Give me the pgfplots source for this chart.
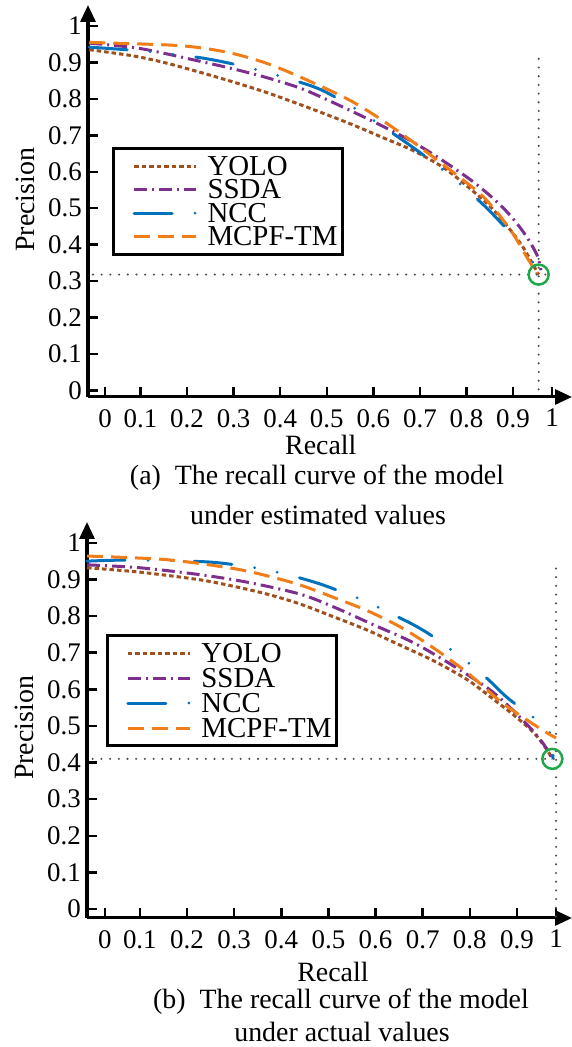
\documentclass[border=0pt]{standalone}
\usepackage{fontspec}
\setmainfont{Liberation Serif}
\usepackage{pgfplots}
\pgfplotsset{compat=1.18}
\usetikzlibrary{arrows.meta}

\definecolor{yolo}{HTML}{A0501E}
\definecolor{ssda}{HTML}{7E2F8E}
\definecolor{ncc}{HTML}{0072BD}
\definecolor{mcpf}{HTML}{F07D18}
\definecolor{ring}{HTML}{1FA84A}
\definecolor{guide}{HTML}{4D4D4D}

\newcommand{\labf}{\fontsize{28}{28}\selectfont}
\newcommand{\legf}{\fontsize{29}{29}\selectfont}
\newcommand{\tickf}{\fontsize{27}{27}\selectfont}

\pgfplotsset{
  prcurve/.style={
    scale only axis, axis lines=left, clip=false,
    axis line style={line width=3bp, -{Triangle[length=17bp,width=15bp]}},
    tick align=inside, major tick length=10bp,
    tick style={line width=2.5bp, black},
    ytick={0,0.1,...,1},
    yticklabel style={font=\tickf, inner sep=0bp, xshift=-6bp},
    xticklabel style={font=\tickf, inner sep=0bp, yshift=-12bp},
    /pgf/number format/assume math mode=true,
    xticklabels={0,0.1,0.2,0.3,0.4,0.5,0.6,0.7,0.8,0.9,1},
    label style={font=\labf},
    xlabel={Recall}, ylabel={Precision},
    legend style={draw=black, line width=3bp, font=\legf,
      anchor=north west, inner xsep=5bp,
      row sep=0bp, column sep=0bp},
    legend cell align=left,
    legend image code/.code={\path (-14bp,0bp) (72bp,0bp);
      \draw[##1] (0bp,0bp) -- (62bp,0bp);},
  },
  cyolo/.style={yolo, line width=3bp, dash pattern=on 4.5bp off 3bp},
  cssda/.style={ssda, line width=3bp, dash pattern=on 13bp off 5bp on 2bp off 5bp},
  cncc/.style={ncc, line width=3bp, line cap=round, dash pattern=on 38bp off 23bp on 0bp off 23bp on 0bp off 23bp},
  cmcpf/.style={mcpf, line width=3bp, dash pattern=on 16bp off 8bp},
  guideline/.style={guide, line width=2.3bp, line cap=round, dash pattern=on 0bp off 8.7bp},
}

\begin{document}
\begin{tikzpicture}
\useasboundingbox (0,0) rectangle (572bp,1047bp);

% (a) estimated values
\begin{axis}[prcurve,
  at={(88bp,650bp)}, anchor=south west,
  width=484bp, height=392bp,
  xmin=-0.0127, xmax=1.0266, ymin=-0.0178, ymax=1.0576,
  xtick={0.024,0.1,0.2,0.3,0.4,0.5,0.6,0.7,0.8,0.9,0.984},
  xlabel style={at={(axis description cs:0.481,-0.123)}, anchor=center},
  ylabel style={at={(axis description cs:-0.130,0.503)}, anchor=center},
  legend style={at={(axis description cs:0.0496,0.638)}, inner ysep=6bp,
    nodes={inner xsep=0bp, inner ysep=2.75bp, text height=18bp, text depth=0bp}},
]
\addplot[cyolo, smooth] coordinates {
  (-0.01,0.935) (0.084,0.918) (0.15,0.900) (0.228,0.873) (0.30,0.846)
  (0.372,0.817) (0.45,0.781) (0.544,0.735) (0.62,0.694) (0.686,0.658)
  (0.75,0.612) (0.80,0.562) (0.85,0.506) (0.887,0.452) (0.92,0.396)
  (0.943,0.345) (0.955,0.318)};
\addplot[cssda, smooth] coordinates {
  (-0.01,0.953) (0.10,0.938) (0.228,0.903) (0.30,0.882) (0.372,0.858)
  (0.45,0.826) (0.544,0.772) (0.62,0.725) (0.686,0.681) (0.75,0.630)
  (0.815,0.572) (0.865,0.518) (0.901,0.470) (0.93,0.420) (0.952,0.370)
  (0.96,0.330)};
\addplot[cncc, smooth] coordinates {
  (-0.01,0.942) (0.078,0.934) (0.16,0.924) (0.243,0.910) (0.332,0.886)
  (0.41,0.858) (0.486,0.826) (0.568,0.768) (0.64,0.707) (0.70,0.653)
  (0.775,0.579) (0.84,0.505) (0.893,0.434) (0.925,0.385) (0.947,0.342)
  (0.955,0.318)};
\addplot[cmcpf, smooth] coordinates {
  (-0.01,0.955) (0.157,0.948) (0.23,0.940) (0.30,0.924) (0.37,0.898)
  (0.443,0.860) (0.544,0.800) (0.615,0.745) (0.686,0.681) (0.771,0.599)
  (0.829,0.540) (0.865,0.490) (0.900,0.430) (0.930,0.365) (0.952,0.320)};
\legend{YOLO,SSDA,NCC,MCPF-TM}
\addplot[guideline, forget plot] coordinates {(-0.002,0.318) (0.973,0.318)};
\addplot[guideline, forget plot] coordinates {(0.955,0.91) (0.955,-0.015)};
\addplot[only marks, mark=o, mark size=10bp, mark options={ring, line width=2.5bp}, forget plot]
  coordinates {(0.955,0.318)};
\end{axis}

% (b) actual values
\begin{axis}[prcurve,
  at={(87bp,129bp)}, anchor=south west,
  width=485bp, height=396bp,
  xmin=-0.0121, xmax=1.0168, ymin=-0.0246, ymax=1.057,
  xtick={0.026,0.1,0.2,0.3,0.4,0.5,0.6,0.7,0.8,0.9,0.983},
  xlabel style={at={(axis description cs:0.507,-0.136)}, anchor=center},
  ylabel style={at={(axis description cs:-0.130,0.480)}, anchor=center},
  legend style={at={(axis description cs:0.039,0.717)}, inner ysep=5bp,
    nodes={inner xsep=0bp, inner ysep=3.5bp, text height=18bp, text depth=0bp}},
]
\addplot[cyolo, smooth] coordinates {
  (-0.012,0.932) (0.10,0.920) (0.228,0.899) (0.30,0.881) (0.37,0.860)
  (0.44,0.833) (0.511,0.798) (0.582,0.762) (0.653,0.720) (0.723,0.678)
  (0.795,0.626) (0.85,0.573) (0.893,0.530) (0.936,0.481) (0.964,0.434)
  (0.975,0.410)};
\addplot[cssda, smooth] coordinates {
  (-0.012,0.940) (0.10,0.932) (0.228,0.913) (0.33,0.892) (0.44,0.860)
  (0.511,0.825) (0.596,0.776) (0.681,0.727) (0.759,0.669) (0.837,0.604)
  (0.88,0.557) (0.922,0.503) (0.945,0.470) (0.962,0.440) (0.975,0.410)};
\addplot[cncc, smooth] coordinates {
  (-0.012,0.950) (0.079,0.953) (0.243,0.948) (0.334,0.934) (0.387,0.921)
  (0.44,0.904) (0.493,0.883) (0.578,0.841) (0.627,0.810) (0.678,0.778)
  (0.723,0.743) (0.797,0.672) (0.838,0.628) (0.877,0.580) (0.922,0.535)
  (0.957,0.503) (0.972,0.475) (0.977,0.440) (0.976,0.412)};
\addplot[cmcpf, smooth] coordinates {
  (-0.012,0.964) (0.158,0.954) (0.298,0.930) (0.37,0.910) (0.44,0.885)
  (0.511,0.851) (0.582,0.815) (0.653,0.770) (0.723,0.713) (0.795,0.645)
  (0.865,0.567) (0.918,0.519) (0.960,0.484) (0.983,0.467)};
\legend{YOLO,SSDA,NCC,MCPF-TM}
\addplot[guideline, forget plot] coordinates {(0.0,0.41) (1.006,0.41)};
\addplot[guideline, forget plot] coordinates {(0.983,0.93) (0.983,-0.022)};
\addplot[only marks, mark=o, mark size=10bp, mark options={ring, line width=2.5bp}, forget plot]
  coordinates {(0.975,0.41)};
\end{axis}

\node[font=\labf] at (317bp,569bp) {(a)\hspace{0.5em}The recall curve of the model};
\node[font=\labf] at (318bp,532bp) {under estimated values};
\node[font=\labf] at (341bp,45bp) {(b)\hspace{0.5em}The recall curve of the model};
\node[font=\labf] at (342bp,15bp) {under actual values};
\end{tikzpicture}
\end{document}
